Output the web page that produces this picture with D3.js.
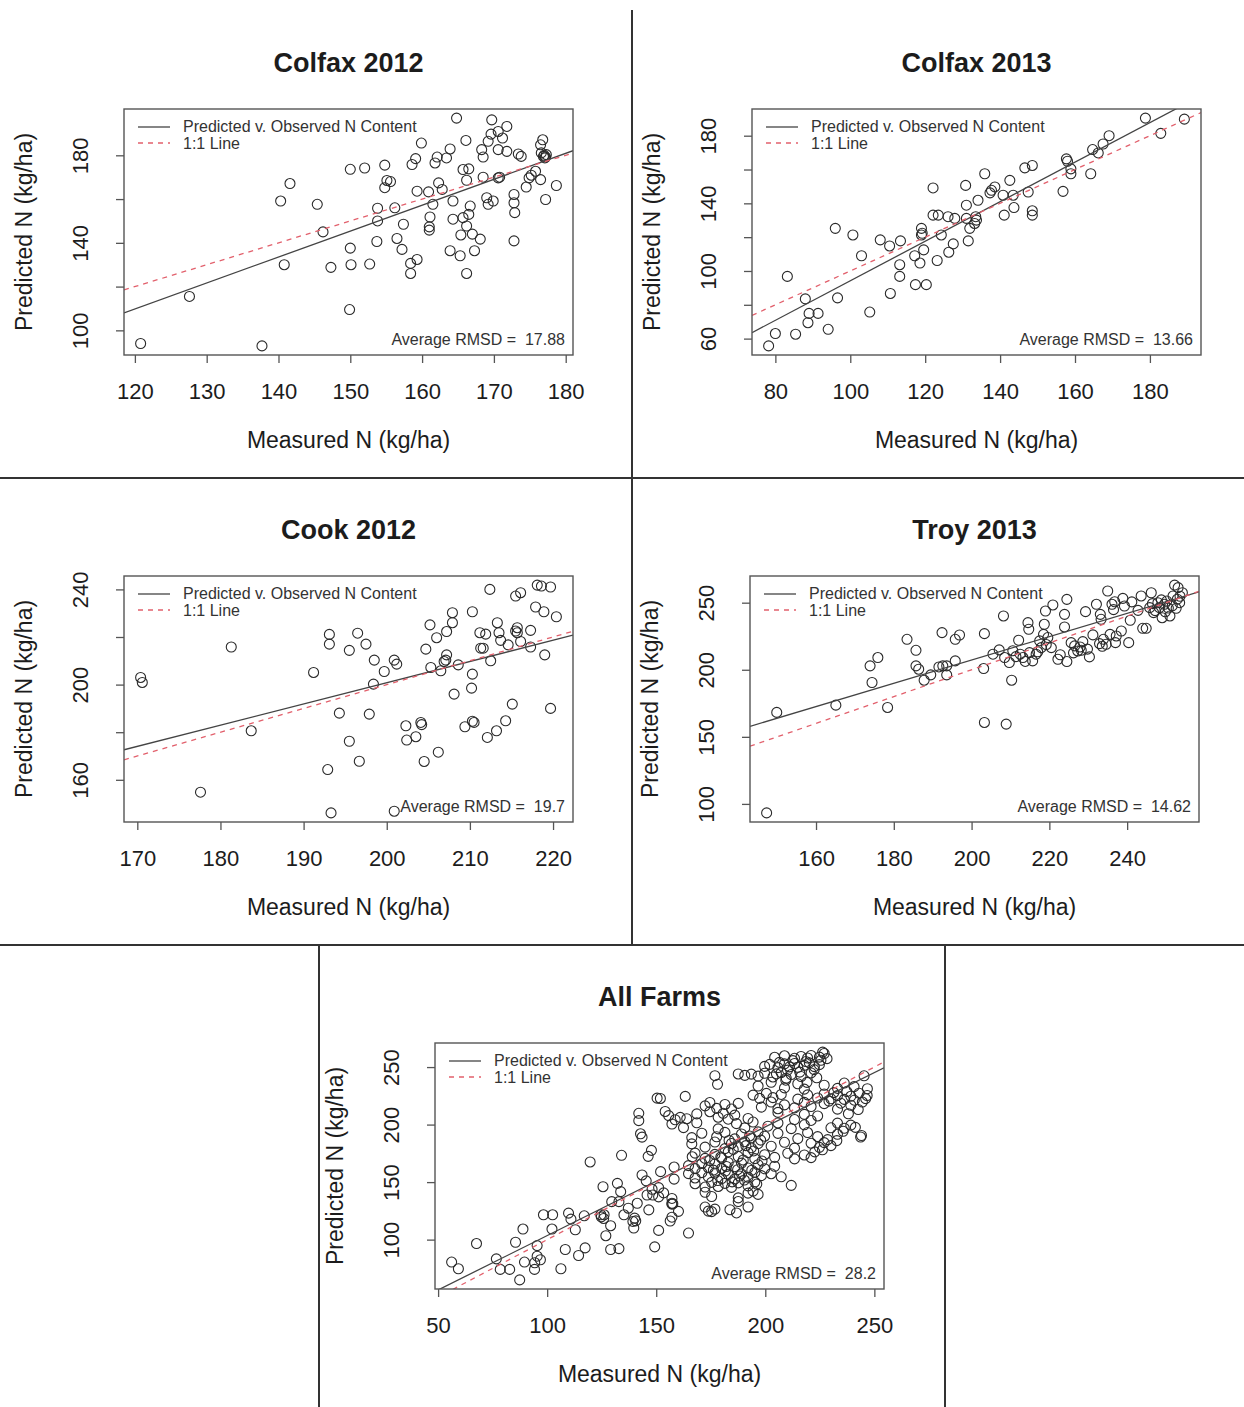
<!DOCTYPE html>
<html>
<head>
<meta charset="utf-8">
<script src="https://cdn.jsdelivr.net/npm/d3@7"></script>
<style>
  body { margin: 0; background: #fff; }
  text { font-family: "Liberation Sans", Arial, Helvetica, sans-serif; fill: #1c1c1c; }
</style>
</head>
<body>
<div id="chart"></div>
<script>
// measured vs predicted N (kg/ha)
const colfax2012 = [
  [120.8,94],[127.6,115.5],[137.7,92.9],[140.3,159.1],[141.6,167.1],[140.8,130],[145.4,157.6],[146.2,145],
  [147.3,128.8],[150,173.6],[152,174.2],[150,137.6],[150.1,130],[149.9,109.5],[152.7,130.3],[154.8,175.5],
  [155.1,168.5],[155.6,168],[154.8,165.2],[153.8,155.8],[153.8,150],[153.7,140.6],[156.2,156],[157.4,148.5],
  [156.5,142],[157.2,137],[158.4,130.6],[159.3,132.4],[158.4,126],[158.6,175.8],[159.1,178.5],[159.9,185.6],
  [159.3,163.6],[160.9,163.3],[161.5,157.6],[161.1,151.8],[161,147.3],[161,145.8],[161.8,176.5],[162.1,179.2],
  [163.4,178.8],[162.3,167.4],[162.8,164.4],[163.9,182.9],[164.8,197],[164.3,159.1],[164.3,150.8],[163.9,136.4],
  [165.3,134.1],[165.4,143.6],[165.7,151.5],[166.2,147.7],[166.7,156.8],[166.5,153],[166.2,168.6],[165.7,173.5],
  [166.5,173.8],[166.1,186.8],[167,144],[168.1,141.7],[167.3,136.4],[166.2,126],[168.3,182.6],[168.5,179.2],
  [168.5,170],[169,160.6],[169.2,157.6],[169.9,159.1],[169.2,186.4],[169.6,189.7],[169.7,196.2],[170.6,190.9],
  [171.2,187.9],[170.6,182.6],[171.8,193.2],[170.6,169.7],[170.8,170],[171.8,181.8],[172.8,162.1],[172.8,158.3],
  [172.9,153.8],[172.8,140.9],[173.4,180.6],[173.8,179.5],[174.5,165.5],[174.9,169.7],[175.2,170.9],[175.8,172.7],
  [176.5,168.9],[176.8,187.1],[176.5,184.8],[176.6,181.1],[176.9,179.5],[177.1,178.8],[177.3,180.3],[177.2,159.8],
  [178.7,166.2],[177,180],[177.2,179.2]
];

const colfax2013 = [
  [78.2,55.7],[80,63],[85.4,62.6],[83.2,96.8],[88,83.5],[89,74.9],[91.4,74.9],[88.7,69.4],[94.1,65.5],
  [96.6,84.1],[96,125.2],[100.7,121.3],[103,109],[105.2,75.7],[108,118.4],[110.5,114.8],[113.4,117.8],
  [113.2,103.7],[113.2,96.8],[110.7,86.7],[117.2,109],[117.4,91.9],[120.3,91.9],[118.6,104.7],[119.6,112.5],
  [119,125.2],[119,121.3],[119.2,122.3],[122.1,149.1],[122.1,133],[123.5,133],[124.3,121.3],[123.2,106.2],
  [126.1,132.1],[127.9,131.1],[127.5,116],[126.3,111.1],[130.8,150.6],[131,138.9],[131,131.1],[131.5,117.8],
  [131.9,125.2],[133.7,130.1],[133.5,132.1],[133.2,128.1],[134.1,141.8],[135.9,157.5],[137.7,147.7],
  [138.6,149.7],[137.3,146.2],[140.8,144.8],[141.1,133],[142.6,153.6],[143.5,144.8],[143.7,137.5],
  [146.6,161],[148.6,162.4],[147.5,146.7],[148.6,135.6],[148.6,133],[156.8,147.1],[157.7,166.3],[158,164.9],
  [158.9,160.4],[158.9,157.5],[164.2,157.5],[164.7,171.8],[166.2,169.8],[167.5,175.1],[169.1,180],
  [178.8,190.4],[182.9,181.4],[189.2,189.8]
];

const cook2012 = [
  [170.4,203],[170.6,200.9],[177.6,154.8],[181.3,215.8],[183.7,180.6],[191.2,205.1],[193.1,221.1],[193.1,217],
  [192.9,164.3],[193.3,146.1],[194.3,188],[195.5,176.2],[195.5,214.4],[196.5,221.6],[196.7,167.8],[197.5,217],
  [197.9,187.6],[198.5,210.3],[198.4,200.2],[199.7,205.5],[200.9,210.3],[201.2,208.6],[200.9,146.8],[202.3,182.7],
  [202.4,176.7],[203.5,178.1],[204.1,184.1],[204.2,183.2],[204.5,167.7],[204.7,214.9],[205.2,225.1],[205.3,207.2],
  [206,219.7],[206.2,171.6],[206.5,205.8],[206.9,209.7],[207.1,210.3],[207.2,222.3],[207.2,212.5],[207.9,226],
  [207.9,230.2],[208.6,208.3],[208.1,196],[209.4,182.3],[210.3,230.6],[210.3,204.4],[210.2,198.5],[210.3,184.6],
  [210.5,184.1],[211.2,221.8],[211.3,215.3],[211.6,215.3],[211.9,221.2],[212.1,177.8],[212.4,240],[212.5,210],
  [213.2,180.6],[213.3,226],[213.5,221.8],[213.7,218.6],[214.3,184.8],[214.6,216.7],[215.1,191.8],[215.5,222.5],
  [215.7,223.9],[215.7,221.8],[215.5,237.2],[216.1,238.6],[216.1,218.1],[217.3,222.8],[217.3,215.8],[217.9,232.6],
  [218.1,241.8],[218.6,241.4],[218.9,230.6],[219,212.5],[219.7,241],[219.7,190],[220.4,228.5]
];

const troy2013 = [
  [147.3,93.3],[149.9,168.2],[165.1,173.6],[178.4,171.9],[173.9,202.9],[175.9,209.1],[174.4,190.5],[183.4,222.7],
  [185.7,214.5],[185.7,202.9],[186.4,200.4],[187.8,192.2],[189.5,196.2],[191.6,202.1],[192.4,227.7],[192.6,202.9],
  [193.6,202.9],[193.6,196.2],[195.8,206.6],[195.8,222.7],[196.9,225.9],[203.3,226.9],[203.1,200.9],[203.3,160.7],
  [208.9,159.5],[205.5,211.6],[207.1,214.8],[208.2,240.1],[208.5,209.1],[209.7,205.4],[210.3,192.2],[212.1,222],
  [212.5,211.6],[213.2,209.1],[214.5,235.1],[214.7,230.2],[214.9,212.8],[215.7,206.6],[216.6,211.6],[217.5,221.5],
  [217.9,216.5],[218.5,226.4],[218.7,233.9],[219,243.8],[219.6,224],[220.5,216.5],[220.9,248.3],[222.2,207.8],
  [223.9,231.9],[223.9,241.3],[224.5,252.5],[224.5,206.1],[225.6,220.2],[226.5,217.8],[227.3,214],[227.9,217],
  [228.6,221],[229.3,243.3],[230.3,209.6],[231.2,226],[232.1,248.8],[233.1,241.3],[233.3,237.6],[233.9,222.7],
  [234.6,219],[235,258.7],[235.6,226.4],[236.1,248.8],[236.8,250.7],[237.2,225.2],[238.5,228.9],[238.9,253.2],
  [239.3,247.5],[240.4,220.2],[240.8,236.9],[243.6,255],[244,230.9],[244.9,230.9],[245.8,246.3],[246.2,257.4],
  [246.8,242.6],[247.9,250],[248.3,246.3],[249,238.8],[249.6,248.8],[250.2,251.2],[251,240.1],[251.8,255],
  [252.2,263.1],[253.1,261.2],[253.5,250],[254.2,257.4],[252.6,245.8],[228.2,214.5],[237,220.2],[232.9,219.5],
  [247.2,244.1],[249.8,243.2],[251.6,247.7],[252.9,252.6],[248.8,252.1],[250.6,246],[246.5,249.3],[253.6,254.8],
  [211.4,209.8],[213.8,206.2],[217,213.4],[219.2,218.8],[222.8,211.2],[226.2,212.6],[229.8,215.4],[233.6,217.5],
  [210.6,214.2],[236.5,244.8],[241.2,250.6],[242.8,244.3]
];

const allFarms = [
  [56.2,80.5],[59.3,74.7],[67.6,96.6],[76.7,83.3],[78.5,74.1],[82.8,74.1],[87.4,65],[85.5,97.7],[88.9,109.2],
  [89.6,80.5],[94.3,79.9],[95.4,85.6],[95.4,94.8],[96.9,82.5],[94.2,74.1],[102.2,109.2],[98.3,121.6],[102.5,121.6],
  [106.3,74.7],[108.3,91.4],[109.8,123],[110.9,117.8],[112.9,108.6],[114.4,86.2],[117.4,92.8],[117,120.7],
  [119.7,167.5],[124.6,121.6],[126.1,121.6],[125.6,146],[126.9,103.4],[129.1,112.1],[129.1,91.4],[132.9,92.2],
  [132.2,148.9],[133.7,141.7],[129.6,133],[132.9,133],[134.1,173.3],[135.2,121.6],[137.2,127.3],[139.3,115.8],
  [139.7,110.1],[141.3,131.6],[142,209.8],[142,203.4],[142.8,192],[143.5,189.1],[145.4,151.1],[146.3,172.4],
  [146.6,125.9],[147.8,177.6],[149.3,93.7],[145.8,138.8],[148.4,138.8],[150.4,223],[151.1,108],
  [124.8,119.8],[125.9,118.4],[140.1,118.7],[140.6,116.3],[152,159.1],[158.2,163.1],[158.2,152.6],[166.5,172],
  [204.3,258.5],[208.8,259.8],[213.4,257.6],[216.4,259.2],[219.4,257.9],[221,260.1],[224.8,258.6],[227,261.8],[226.3,263],
  [199.7,250.6],[202,252.3],[205.8,249.5],[208.8,252.8],[211.1,250.2],[213.4,253.1],[214.9,249.8],[217.9,251.5],
  [220.2,253.6],[222.5,250.4],[224.8,252.1],
  [176.9,242.5],[187.6,244],[190.6,242.8],[193.6,243.9],[196.7,242.1],[199.7,244.6],[203.5,241.4],[207.3,245.2],
  [209.6,240.3],[211.9,243.5],[216.4,241.8],[221,244.9],[245.3,242.4],
  [178.1,235],[196.7,233.5],[202.7,236.8],[208.8,231.9],[214.9,235.5],[217.9,230.8],[227,234.2],[233.1,231.5],
  [236.2,236.1],[240.7,233],[246.8,231.2],
  [151.9,222.7],[163.3,224.5],[194.4,225.6],[197.4,222.8],[200.5,227.1],[203.5,223.4],[207.3,226.2],[214.9,222.1],
  [219.4,225.8],[224,223.1],[227,226.6],[230.1,222.4],[233.1,225.2],[236.2,221.9],[239.2,224.6],[243,227.3],[246,222.6],
  [154.1,211.4],[172.4,216.3],[174.6,219.2],[177.7,214.1],[181.5,217.5],[184.5,213.6],[187.6,218.4],[198.2,215.2],
  [202.7,219.6],[205.8,213.8],[208.8,217.1],[213.4,214.5],[217.9,219.3],[221,215.7],[227,218.2],[233.1,213.4],[239.2,216.8],
  [155.7,207.8],[158.7,204.2],[161,206.3],[164,205.1],[168.6,209.3],[174.6,211.2],[178.4,206.4],[180.7,209.8],
  [183,204.7],[186,208.2],[192.1,205.3],[205.8,210.6],[213.4,204.4],[217.9,208.9],[221,203.6],[224,207.5],
  [157.2,200.5],[162.5,197.4],[168.6,201.6],[178.4,196.3],[186.8,200.8],[190.6,197.1],[194.4,202.2],[201.2,198.6],
  [205.8,201.4],[211.9,196.5],[217.9,199.8],[230.1,197.2],[233.1,201.3],[236.2,196.8],[239.2,199.5],
  [166.3,188.7],[170.9,192.5],[177.7,189.4],[181.5,193.2],[186,187.6],[189.1,191.8],[193.6,188.3],[196.7,193.7],
  [199.7,189.9],[205.8,192.4],[214.9,187.8],[219.4,193.1],[224,189.5],[228.6,186.9],[233.1,191.6],[243.7,189.2],
  [166.3,183.2],[172.4,180.4],[176.9,184.8],[181.5,179.1],[184.5,183.6],[187.6,180.9],[190.6,185.1],[193.6,179.8],
  [196.7,183.4],[202.7,181.2],[208.8,184.6],[213.4,179.5],[221,183.8],[224.8,180.2],[227,184.3],[230.1,181.7],
  [167.8,175.2],[172.4,170.6],[176.9,174.1],[180,170.9],[183,176.3],[187.6,172.2],[192.1,175.6],[195.2,170.4],
  [199.7,173.8],[204.3,171.5],[210.3,175.1],[213.4,170.2],[217.9,173.6],[221,171.3],
  [164.8,164.3],[167.8,161.7],[170.9,166.2],[173.9,162.5],[176.9,165.8],[180,161.9],[183,167.1],[186,163.4],
  [189.1,166.5],[192.1,162.2],[196.7,165.1],[199.7,161.6],[204.3,163.8],
  [143.5,156.2],[164.8,157.4],[167.8,153.6],[170.9,158.2],[173.9,154.5],[176.9,157.9],[180,153.1],[183,156.8],
  [186,152.7],[189.1,157.1],[192.1,154.2],[195.2,158.4],[198.2,155.6],[202.7,157.3],[207.3,154.6],
  [148.1,143.8],[151.1,145.2],[167.8,148.6],[172.4,145.7],[175.4,149.8],[178.4,146.2],[181.5,148.9],[184.5,145.4],
  [187.6,149.3],[192.1,146.7],[195.2,150.1],[211.9,147.2],
  [151.1,137.2],[153.4,140.6],[157.2,135.8],[172.4,141.2],[175.4,137.5],[187.6,136.3],[192.1,140.4],[194.4,142.1],[196.7,139.3],
  [157.2,130.8],[157.2,131.6],[157.6,131.2],[172.4,128.3],[176.9,126.5],[187.6,133.1],[192.1,128.4],
  [157.2,119.5],[160.2,124.6],[173.9,124.8],[175.4,124.3],[183.8,126],[186.8,123.2],
  [156.4,116.2],[164.8,105.7],
  [178.2,151.4],[181.7,159.6],[184.8,150.2],[187.3,160.8],[190.4,151.8],[193.8,160.3],[196.1,148.3],[179.6,171.8],
  [185.3,178.4],[189.9,169.2],[194.7,177.1],[198.5,168.3],[183.4,186.2],[192.8,190.1],[197.9,186.5],[188.2,155.3],
  [182.2,163.6],[176.2,160.4],[174.5,168.8],[191.1,181.7],
  [206.5,254.1],[210.2,247.3],[212.6,255.6],[215.8,245.6],[218.6,254.8],[222.4,247.8],[225.5,255.9],[228.3,257.3],
  [209.4,238.6],[219.1,236.7],[205.1,244.1],[223.6,240.7],
  [229.2,220.4],[231.4,227.8],[234.6,218.6],[237.4,228.7],[240.8,221.2],[244.5,219.6],[246.7,225.3],[238.1,209.4],
  [242.6,213.1],[235.7,194.2],[241.3,197.6],[244.1,190.5],[232.8,186.1],[226.2,178.1],[222.7,176.3]
];

const panelTitles = ["Colfax 2012", "Colfax 2013", "Cook 2012", "Troy 2013", "All Farms"];
const panelData = [colfax2012, colfax2013, cook2012, troy2013, allFarms];
const fitIntercepts = [-32.4, -22.7, 22.4, 33.7, 9.0];
const fitSlopes = [1.185, 1.169, 0.892, 0.868, 0.945];
const rmsdValues = ["17.88", "13.66", "19.7", "14.62", "28.2"];
const xTickValues = [
  [120, 130, 140, 150, 160, 170, 180],
  [80, 100, 120, 140, 160, 180],
  [170, 180, 190, 200, 210, 220],
  [160, 180, 200, 220, 240],
  [50, 100, 150, 200, 250]
];
const yTickValues = [
  [100, 120, 140, 160, 180],
  [60, 80, 100, 120, 140, 160, 180],
  [160, 180, 200, 220, 240],
  [100, 150, 200, 250],
  [100, 150, 200, 250]
];
const yTickLabels = [
  [100, 140, 180],
  [60, 100, 140, 180],
  [160, 200, 240],
  [100, 150, 200, 250],
  [100, 150, 200, 250]
];
const legendLabels = ["Predicted v. Observed N Content", "1:1 Line"];

// layout
const WIDTH = 1244, HEIGHT = 1407;
const PW = 449, PH = 246;
const PANEL_POS = [[124, 109], [752, 109], [124, 576], [750, 576], [435, 1043]];
const FIT_COLOR = '#444', ONE_COLOR = '#e2606c', POINT_COLOR = '#2a2a2a', BOX_COLOR = '#555';

const svg = d3.select('#chart').append('svg')
  .attr('width', WIDTH)
  .attr('height', HEIGHT);

// panel separators
const sep = svg.append('g').attr('stroke', '#333').attr('stroke-width', 2);
sep.append('line').attr('x1', 632).attr('x2', 632).attr('y1', 10).attr('y2', 945);
sep.append('line').attr('x1', 0).attr('x2', WIDTH).attr('y1', 478).attr('y2', 478);
sep.append('line').attr('x1', 0).attr('x2', WIDTH).attr('y1', 945).attr('y2', 945);
sep.append('line').attr('x1', 319).attr('x2', 319).attr('y1', 945).attr('y2', HEIGHT);
sep.append('line').attr('x1', 945).attr('x2', 945).attr('y1', 945).attr('y2', HEIGHT);

// R pads the data range by 4% on each side
function padExtent(values) {
  const [lo, hi] = d3.extent(values);
  const p = (hi - lo) * 0.04;
  return [lo - p, hi + p];
}

function drawPanel(i) {
  const data = panelData[i];
  const g = svg.append('g')
    .attr('transform', `translate(${PANEL_POS[i][0]},${PANEL_POS[i][1]})`);

  const x = d3.scaleLinear().domain(padExtent(data.map(d => d[0]))).range([0, PW]);
  const y = d3.scaleLinear().domain(padExtent(data.map(d => d[1]))).range([PH, 0]);

  g.append('clipPath').attr('id', 'clip' + i)
    .append('rect').attr('width', PW).attr('height', PH);
  const plot = g.append('g').attr('clip-path', `url(#clip${i})`);

  plot.selectAll('circle')
    .data(data)
    .join('circle')
    .attr('cx', d => x(d[0]))
    .attr('cy', d => y(d[1]))
    .attr('r', 5)
    .attr('fill', 'none')
    .attr('stroke', POINT_COLOR)
    .attr('stroke-width', 1.1);

  const [x0, x1] = x.domain();
  // fitted line
  plot.append('line')
    .attr('x1', x(x0)).attr('y1', y(fitIntercepts[i] + fitSlopes[i] * x0))
    .attr('x2', x(x1)).attr('y2', y(fitIntercepts[i] + fitSlopes[i] * x1))
    .attr('stroke', FIT_COLOR).attr('stroke-width', 1.3);
  // 1:1 line
  plot.append('line')
    .attr('x1', x(x0)).attr('y1', y(x0))
    .attr('x2', x(x1)).attr('y2', y(x1))
    .attr('stroke', ONE_COLOR).attr('stroke-width', 1.3)
    .attr('stroke-dasharray', '5,5');

  g.append('rect')
    .attr('width', PW).attr('height', PH)
    .attr('fill', 'none')
    .attr('stroke', BOX_COLOR).attr('stroke-width', 1.4);

  // axes
  const xAxis = g.append('g')
    .attr('transform', `translate(0,${PH})`)
    .call(d3.axisBottom(x).tickValues(xTickValues[i]).tickSize(8).tickSizeOuter(0));
  xAxis.select('.domain').remove();
  xAxis.selectAll('line').attr('stroke', BOX_COLOR).attr('stroke-width', 1.3);
  xAxis.selectAll('text')
    .attr('y', 44).attr('dy', null)
    .style('font-size', '22px');

  const yAxis = g.append('g')
    .call(d3.axisLeft(y).tickValues(yTickValues[i]).tickSize(8).tickSizeOuter(0)
      .tickFormat(d => yTickLabels[i].includes(d) ? d : ''));
  yAxis.select('.domain').remove();
  yAxis.selectAll('line').attr('stroke', BOX_COLOR).attr('stroke-width', 1.3);
  yAxis.selectAll('text')
    .attr('transform', 'rotate(-90)')
    .attr('x', 0).attr('y', -36).attr('dy', null)
    .attr('text-anchor', 'middle')
    .style('font-size', '22px');

  // titles
  g.append('text')
    .attr('x', PW / 2).attr('y', -37)
    .attr('text-anchor', 'middle')
    .style('font-size', '27px').style('font-weight', 'bold')
    .text(panelTitles[i]);

  g.append('text')
    .attr('x', PW / 2).attr('y', PH + 93)
    .attr('text-anchor', 'middle')
    .style('font-size', '23px')
    .text('Measured N (kg/ha)');

  g.append('text')
    .attr('transform', `translate(-92,${PH / 2}) rotate(-90)`)
    .attr('text-anchor', 'middle')
    .style('font-size', '23px')
    .text('Predicted N (kg/ha)');

  // legend
  const leg = g.append('g');
  leg.append('line').attr('x1', 14).attr('x2', 46).attr('y1', 18).attr('y2', 18)
    .attr('stroke', FIT_COLOR).attr('stroke-width', 1.3);
  leg.append('line').attr('x1', 14).attr('x2', 46).attr('y1', 34).attr('y2', 34)
    .attr('stroke', ONE_COLOR).attr('stroke-width', 1.3).attr('stroke-dasharray', '5,5');
  leg.selectAll('text')
    .data(legendLabels)
    .join('text')
    .attr('x', 59)
    .attr('y', (d, k) => 23 + k * 17)
    .style('font-size', '16px')
    .style('fill', '#333')
    .text(d => d);

  g.append('text')
    .attr('x', PW - 8).attr('y', PH - 10)
    .attr('text-anchor', 'end')
    .style('font-size', '16px')
    .style('fill', '#333')
    .style('white-space', 'pre')
    .text('Average RMSD =  ' + rmsdValues[i]);
}

panelData.forEach((d, i) => drawPanel(i));
</script>
</body>
</html>
